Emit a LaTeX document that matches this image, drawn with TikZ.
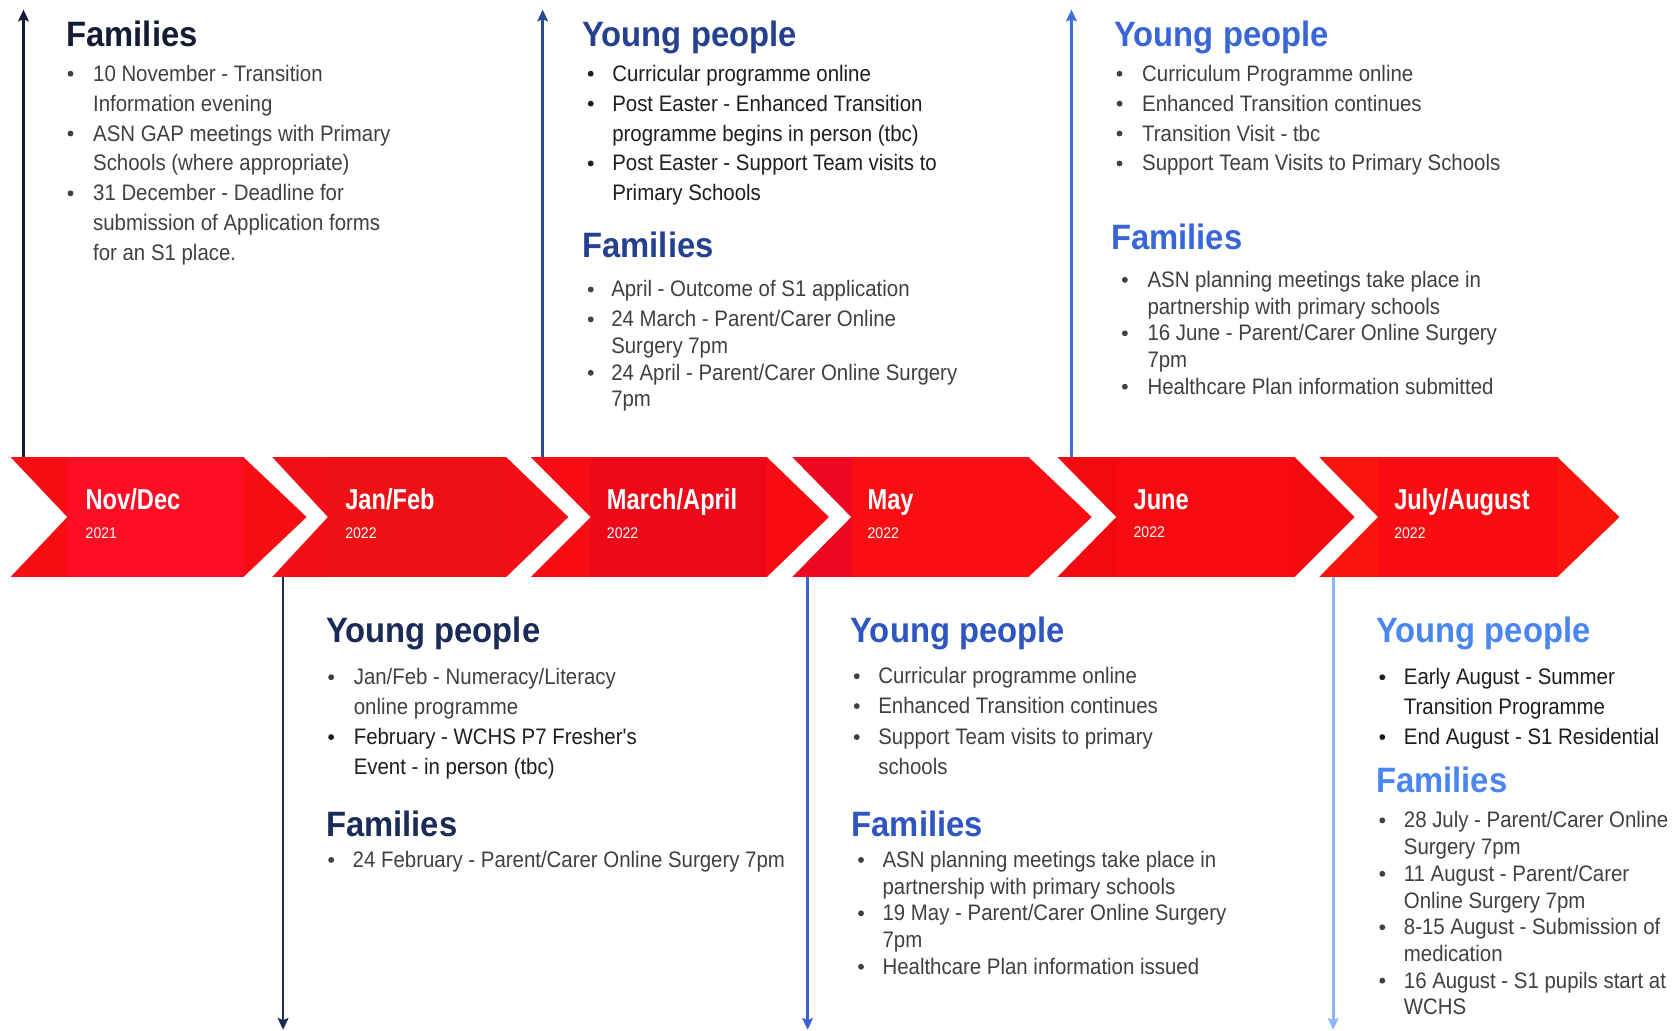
\documentclass[tikz,border=0pt]{standalone}
\usepackage{fontspec}
\setmainfont{Liberation Sans}
\newfontfamily\bodyf[FakeStretch=0.91]{Liberation Sans}
\newfontfamily\headf[FakeStretch=0.93]{Liberation Sans}
\newfontfamily\monf[FakeStretch=0.82]{Liberation Sans}
\usetikzlibrary{arrows.meta}
\definecolor{c1}{HTML}{131B35}
\definecolor{c2}{HTML}{1B2B58}
\definecolor{c3}{HTML}{24408F}
\definecolor{c4}{HTML}{2E55C0}
\definecolor{c5}{HTML}{3866D6}
\definecolor{c6}{HTML}{4A86F0}
\definecolor{ar1}{HTML}{141C36}
\definecolor{ar2}{HTML}{1C2C5A}
\definecolor{ar3}{HTML}{2B4894}
\definecolor{ar4}{HTML}{3B62D2}
\definecolor{ar5}{HTML}{3C6CE0}
\definecolor{ar6}{HTML}{8AB8F8}
\definecolor{tgray}{HTML}{404040}
\definecolor{tdark}{HTML}{1E1E1E}
\definecolor{r1o}{HTML}{F70E12}\definecolor{r1i}{HTML}{FE0E24}
\definecolor{r2o}{HTML}{F40F16}\definecolor{r2i}{HTML}{EF1016}
\definecolor{r3o}{HTML}{F80C14}\definecolor{r3i}{HTML}{EE0717}
\definecolor{r4o}{HTML}{F90E14}\definecolor{r4i}{HTML}{F90E14}\definecolor{r4l}{HTML}{EF0620}
\definecolor{r5o}{HTML}{F20A10}\definecolor{r5i}{HTML}{F80A12}
\definecolor{r6o}{HTML}{FA150C}\definecolor{r6i}{HTML}{F90C12}
\tikzset{
  txt/.style={anchor=base west, inner sep=0pt, font=\bodyf\fontsize{21}{25}\selectfont, text=tgray},
  head/.style={anchor=base west, inner sep=0pt, font=\headf\bfseries\fontsize{33}{38}\selectfont},
  mon/.style={anchor=base west, inner sep=0pt, font=\monf\bfseries\fontsize{27}{30}\selectfont, text=white},
  yr/.style={anchor=base west, inner sep=0pt, font=\bodyf\fontsize{14.5}{16}\selectfont, text=white},
  bul/.style={circle, inner sep=0pt, minimum size=5.5pt},
  tl/.style={line width=2.5pt, -{Stealth[length=11pt,width=10pt,inset=2pt]}},
}
\newcommand\Itm[6]{%
  \node[bul,fill=#2] (#1b) at (#3,{#5-7}) {};
  \node[txt,text=#2] (#1) at (#4,#5) {#6};}
\newcommand\Cnt[5]{%
  \node[txt,text=#2] (#1) at (#3,#4) {#5};}
\newcommand\Chev[7]{% name, L, N, R, T, outer, inner
  \fill[#6] (#2,428) -- (#4,428) -- (#5,484) -- (#4,540) -- (#2,540) -- (#3,484) -- cycle;
  \fill[#7] (#3,428) rectangle (#4,540);
  \coordinate (#1) at (#3,484);}
\begin{document}
\begin{tikzpicture}[x=1pt,y=-1pt]
\useasboundingbox (0,0) rectangle (1568,965);
\fill[white] (0,0) rectangle (1568,965);

% arrows
\coordinate (a1s) at (22,428);   \coordinate (a1e) at (22,9);
\coordinate (a2s) at (265,540);  \coordinate (a2e) at (265,964);
\coordinate (a3s) at (508,428);  \coordinate (a3e) at (508,9);
\coordinate (a4s) at (756,540);  \coordinate (a4e) at (756,964);
\coordinate (a5s) at (1003,428); \coordinate (a5e) at (1003,9);
\coordinate (a6s) at (1248,540); \coordinate (a6e) at (1248,964);
\draw[tl,ar1] (a1s) -- (a1e);
\draw[tl,ar2] (a2s) -- (a2e);
\draw[tl,ar3] (a3s) -- (a3e);
\draw[tl,ar4] (a4s) -- (a4e);
\draw[tl,ar5] (a5s) -- (a5e);
\draw[tl,ar6] (a6s) -- (a6e);

% chevrons
\Chev{ch1}{10}{63}{228}{287}{r1o}{r1i}
\Chev{ch2}{255}{307}{474}{532}{r2o}{r2i}
\Chev{ch3}{497}{553}{718}{776}{r3o}{r3i}
\Chev{ch4}{742}{797}{963}{1022}{r4o}{r4i}
\fill[r4l] (742,428) -- (797,428) -- (797,540) -- (742,540) -- (797,484) -- cycle;
\Chev{ch5}{990}{1045}{1212}{1268}{r5o}{r5i}
\Chev{ch6}{1235}{1290}{1458}{1516}{r6o}{r6i}
\node[mon] (m1) at (80,477) {Nov/Dec};      \node[yr] (y1) at (80,504) {2021};
\node[mon] (m2) at (323,477) {Jan/Feb};     \node[yr] (y2) at (323,504) {2022};
\node[mon] (m3) at (568,477) {March/April}; \node[yr] (y3) at (568,504) {2022};
\node[mon] (m4) at (812,477) {May};         \node[yr] (y4) at (812,504) {2022};
\node[mon] (m5) at (1061,477) {June};       \node[yr] (y5) at (1061,503) {2022};
\node[mon] (m6) at (1305,477) {July/August};\node[yr] (y6) at (1305,504) {2022};

% Nov/Dec
\node[head,text=c1] (h1f) at (62,44) {Families};
\Itm{n1}{tgray}{66}{87}{76}{10 November - Transition}
\Cnt{n1c}{tgray}{87}{104}{Information evening}
\Itm{n2}{tgray}{66}{87}{132}{ASN GAP meetings with Primary}
\Cnt{n2c}{tgray}{87}{160}{Schools (where appropriate)}
\Itm{n3}{tgray}{66}{87}{188}{31 December - Deadline for}
\Cnt{n3c}{tgray}{87}{216}{submission of Application forms}
\Cnt{n3d}{tgray}{87}{244}{for an S1 place.}

% Jan/Feb
\node[head,text=c2] (h2y) at (305,601) {Young people};
\Itm{j1}{tgray}{310}{331}{641}{Jan/Feb - Numeracy/Literacy}
\Cnt{j1c}{tgray}{331}{669}{online programme}
\Itm{j2}{tdark}{310}{331}{697}{February - WCHS P7 Fresher's}
\Cnt{j2c}{tdark}{331}{725}{Event - in person (tbc)}
\node[head,text=c2] (h2f) at (305,783) {Families};
\Itm{j3}{tgray}{310}{330}{812}{24 February - Parent/Carer Online Surgery 7pm}

% March/April
\node[head,text=c3] (h3y) at (545,44) {Young people};
\Itm{a1}{tdark}{553}{573}{76}{Curricular programme online}
\Itm{a2}{tdark}{553}{573}{104}{Post Easter - Enhanced Transition}
\Cnt{a2c}{tdark}{573}{132}{programme begins in person (tbc)}
\Itm{a3}{tdark}{553}{573}{160}{Post Easter - Support Team visits to}
\Cnt{a3c}{tdark}{573}{188}{Primary Schools}
\node[head,text=c3] (h3f) at (545,241) {Families};
\Itm{a4}{tgray}{553}{572}{278}{April - Outcome of S1 application}
\Itm{a5}{tgray}{553}{572}{306}{24 March - Parent/Carer Online}
\Cnt{a5c}{tgray}{572}{331}{Surgery 7pm}
\Itm{a6}{tgray}{553}{572}{356}{24 April - Parent/Carer Online Surgery}
\Cnt{a6c}{tgray}{572}{381}{7pm}

% May
\node[head,text=c4] (h4y) at (796,601) {Young people};
\Itm{my1}{tgray}{802}{822}{640}{Curricular programme online}
\Itm{my2}{tgray}{802}{822}{668}{Enhanced Transition continues}
\Itm{my3}{tgray}{802}{822}{697}{Support Team visits to primary}
\Cnt{my3c}{tgray}{822}{725}{schools}
\node[head,text=c4] (h4f) at (797,783) {Families};
\Itm{mf1}{tgray}{806}{826}{812}{ASN planning meetings take place in}
\Cnt{mf1c}{tgray}{826}{837}{partnership with primary schools}
\Itm{mf2}{tgray}{806}{826}{862}{19 May - Parent/Carer Online Surgery}
\Cnt{mf2c}{tgray}{826}{887}{7pm}
\Itm{mf3}{tgray}{806}{826}{912}{Healthcare Plan information issued}

% June
\node[head,text=c5] (h5y) at (1043,44) {Young people};
\Itm{u1}{tgray}{1048}{1069}{76}{Curriculum Programme online}
\Itm{u2}{tgray}{1048}{1069}{104}{Enhanced Transition continues}
\Itm{u3}{tgray}{1048}{1069}{132}{Transition Visit - tbc}
\Itm{u4}{tgray}{1048}{1069}{160}{Support Team Visits to Primary Schools}
\node[head,text=c5] (h5f) at (1040,234) {Families};
\Itm{u5}{tgray}{1053}{1074}{269}{ASN planning meetings take place in}
\Cnt{u5c}{tgray}{1074}{294}{partnership with primary schools}
\Itm{u6}{tgray}{1053}{1074}{319}{16 June - Parent/Carer Online Surgery}
\Cnt{u6c}{tgray}{1074}{344}{7pm}
\Itm{u7}{tgray}{1053}{1074}{369}{Healthcare Plan information submitted}

% July/August
\node[head,text=c6] (h6y) at (1288,601) {Young people};
\Itm{l1}{tdark}{1294}{1314}{641}{Early August - Summer}
\Cnt{l1c}{tdark}{1314}{669}{Transition Programme}
\Itm{l2}{tdark}{1294}{1314}{697}{End August - S1 Residential}
\node[head,text=c6] (h6f) at (1288,742) {Families};
\Itm{l3}{tgray}{1294}{1314}{775}{28 July - Parent/Carer Online}
\Cnt{l3c}{tgray}{1314}{800}{Surgery 7pm}
\Itm{l4}{tgray}{1294}{1314}{825}{11 August - Parent/Carer}
\Cnt{l4c}{tgray}{1314}{850}{Online Surgery 7pm}
\Itm{l5}{tgray}{1294}{1314}{875}{8-15 August - Submission of}
\Cnt{l5c}{tgray}{1314}{900}{medication}
\Itm{l6}{tgray}{1294}{1314}{925}{16 August - S1 pupils start at}
\Cnt{l6c}{tgray}{1314}{950}{WCHS}
\end{tikzpicture}
\end{document}
